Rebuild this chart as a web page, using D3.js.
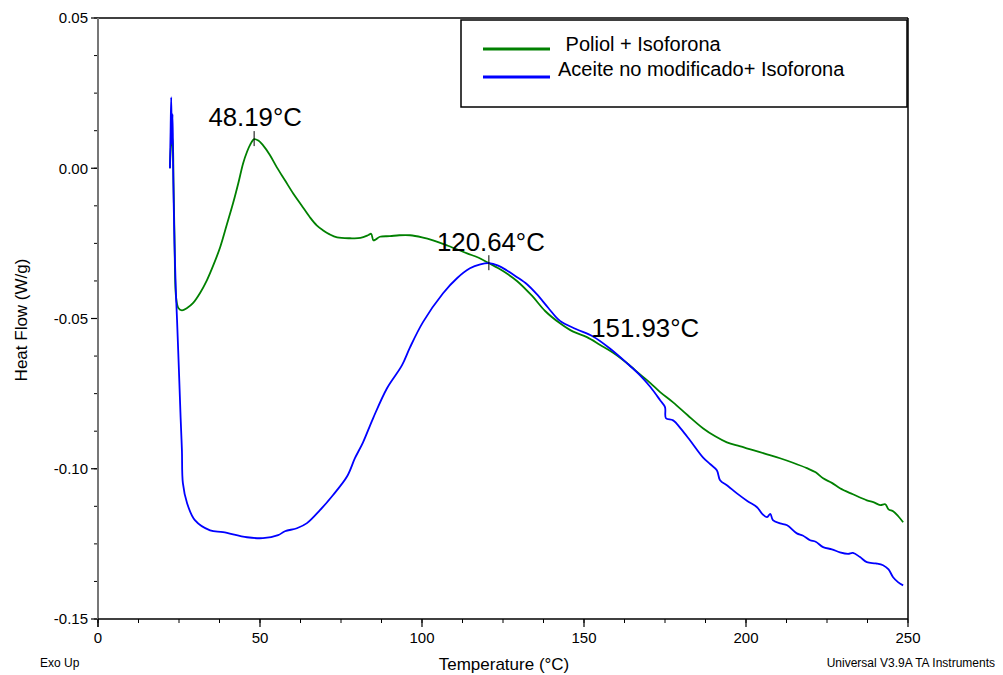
<!DOCTYPE html>
<html><head><meta charset="utf-8">
<script src="https://cdn.jsdelivr.net/npm/d3@7"></script>
<style>body{margin:0;background:#fff}svg{display:block;font-family:"Liberation Sans",Arial,sans-serif}</style>
</head><body><svg id="c" width="1003" height="675"></svg>
<script>
const xTicks=[0,50,100,150,200,250];
const yTicks=[0.05,0.00,-0.05,-0.10,-0.15];
const yTickLabels=["0.05","0.00","-0.05","-0.10","-0.15"];
const seriesNames=[" Poliol + Isoforona","Aceite no modificado+ Isoforona"];
const seriesColors=["#008000","#0000ff"];
const polT=[22.2,22.6,23.0,23.3,23.6,24.1,24.8,25.9,27.5,29.3,31.5,33.6,35.7,37.7,39.7,41.7,43.3,44.8,46.0,46.9,48.2,49.5,50.9,53.0,55.2,57.7,60.2,62.8,65.4,67.5,69.4,71.5,73.8,77.8,81.0,83.5,84.3,85.0,85.7,87.0,90.1,93.0,96.3,100.0,103.4,108.0,113.9,117.5,120.7,125.0,129.3,134.0,138.0,142.6,146.5,150.9,155.0,159.0,163.3,167.3,170.5,173.5,177.5,182.0,186.7,190.5,194.1,198.0,202.2,206.5,210.5,214.5,218.8,221.5,223.8,226.5,229.0,233.0,237.3,239.5,241.4,243.0,244.0,245.5,247.0,248.5];
const polHF=[0.000,0.008,0.010,-0.005,-0.022,-0.043,-0.0465,-0.0473,-0.0465,-0.0449,-0.0415,-0.0373,-0.032,-0.0263,-0.019,-0.0116,-0.005,0.0017,0.0055,0.0077,0.0097,0.0092,0.0077,0.0045,0.0003,-0.004,-0.0083,-0.0123,-0.0163,-0.019,-0.0206,-0.022,-0.0230,-0.0233,-0.0232,-0.0222,-0.0218,-0.0240,-0.0237,-0.0228,-0.0226,-0.0223,-0.0223,-0.0230,-0.0240,-0.0258,-0.0283,-0.0298,-0.0316,-0.0342,-0.0375,-0.0425,-0.0475,-0.0516,-0.0543,-0.0562,-0.0588,-0.0614,-0.0649,-0.0686,-0.0715,-0.0745,-0.0779,-0.0822,-0.0865,-0.0892,-0.0912,-0.0925,-0.0938,-0.0952,-0.0965,-0.0980,-0.0998,-0.1012,-0.1032,-0.1047,-0.1065,-0.1085,-0.1105,-0.1112,-0.1121,-0.1118,-0.1135,-0.1142,-0.1158,-0.1178];
const aceT=[22.2,22.4,22.6,22.8,23.0,23.2,23.6,24.0,24.4,25.0,25.5,25.9,26.2,27.5,29.9,34.6,38.6,46.0,50.9,55.6,57.7,61.4,64.5,68.5,72.5,76.9,79.3,81.8,84.9,89.2,93.8,96.3,100.3,106.5,110.8,114.8,118.0,120.7,123.5,126.2,129.0,132.4,135.5,139.0,142.6,147.5,152.8,158.0,163.3,167.3,170.5,173.5,175.0,175.3,177.5,180.0,182.7,186.7,189.0,191.0,192.0,194.5,197.2,200.5,203.4,205.0,206.5,207.5,208.3,210.5,212.7,215.7,217.5,219.8,221.5,223.8,226.5,229.0,231.5,233.0,235.2,237.3,240.0,242.3,244.0,245.4,247.0,248.5];
const aceHF=[0.000,0.012,0.0236,0.008,0.018,0.000,-0.025,-0.040,-0.0506,-0.068,-0.083,-0.0938,-0.1048,-0.1115,-0.1171,-0.1205,-0.1211,-0.1228,-0.1231,-0.1221,-0.1208,-0.1198,-0.1181,-0.1138,-0.1088,-0.1025,-0.0965,-0.0912,-0.0832,-0.0732,-0.0656,-0.0596,-0.0512,-0.0416,-0.0366,-0.0333,-0.0320,-0.0316,-0.0324,-0.0340,-0.0360,-0.0386,-0.0420,-0.0465,-0.0508,-0.0535,-0.0560,-0.0600,-0.0649,-0.0689,-0.0728,-0.0772,-0.0795,-0.0832,-0.0839,-0.0868,-0.0905,-0.0962,-0.0985,-0.1005,-0.1038,-0.1058,-0.1082,-0.1108,-0.1128,-0.1150,-0.1161,-0.1150,-0.1171,-0.1182,-0.1188,-0.1215,-0.1222,-0.1238,-0.1243,-0.1261,-0.1268,-0.1278,-0.1283,-0.1280,-0.1294,-0.1311,-0.1315,-0.1321,-0.1335,-0.1361,-0.1378,-0.1388];
const annT=[48.19,120.64,151.93];
const annHF=[0.0097,-0.0316,-0.0562];
const annLabels=["48.19°C","120.64°C","151.93°C"];

const svg=d3.select("#c");
const L=98,R=908,T=18,B=619;
const x=d3.scaleLinear().domain([0,250]).range([L,R]);
const y=d3.scaleLinear().domain([-0.15,0.05]).range([B,T]);

svg.append("line").attr("x1",L).attr("x2",R).attr("y1",T).attr("y2",T).attr("stroke","#000").attr("stroke-width",1.5);
svg.append("line").attr("x1",R).attr("x2",R).attr("y1",T).attr("y2",B).attr("stroke","#000").attr("stroke-width",1.5);

const yMinor=d3.range(-0.15,0.0501,0.0125);
const gy=svg.append("g");
gy.selectAll("line.mn").data(yMinor).join("line").attr("x1",L-4).attr("x2",L).attr("y1",d=>y(d)).attr("y2",d=>y(d)).attr("stroke","#000").attr("stroke-width",1);
gy.selectAll("line.mj").data(yTicks).join("line").attr("x1",L-7).attr("x2",L).attr("y1",d=>y(d)).attr("y2",d=>y(d)).attr("stroke","#000").attr("stroke-width",1.2);
gy.selectAll("text").data(yTicks).join("text").attr("x",L-10).attr("y",d=>y(d)).attr("dy","0.35em").attr("text-anchor","end").attr("font-size",15).text((d,i)=>yTickLabels[i]);
gy.append("line").attr("x1",L).attr("x2",L).attr("y1",T).attr("y2",B+8).attr("stroke","#777").attr("stroke-width",2);

const xMinor=d3.range(0,250.01,12.5);
const gx=svg.append("g");
gx.append("line").attr("x1",L).attr("x2",R).attr("y1",B).attr("y2",B).attr("stroke","#000").attr("stroke-width",1.5);
gx.selectAll("line.mn").data(xMinor).join("line").attr("x1",d=>x(d)).attr("x2",d=>x(d)).attr("y1",B).attr("y2",B+4).attr("stroke","#000").attr("stroke-width",1);
gx.selectAll("line.mj").data(xTicks).join("line").attr("x1",d=>x(d)).attr("x2",d=>x(d)).attr("y1",B).attr("y2",B+8).attr("stroke","#000").attr("stroke-width",1.2);
gx.selectAll("text").data(xTicks).join("text").attr("x",d=>x(d)).attr("y",B+24).attr("text-anchor","middle").attr("font-size",15).text(d=>d);

svg.append("text").attr("x",504).attr("y",670).attr("text-anchor","middle").attr("font-size",17).text("Temperature (°C)");
svg.append("text").attr("transform","translate(27,320) rotate(-90)").attr("text-anchor","middle").attr("font-size",17).text("Heat Flow (W/g)");
svg.append("text").attr("x",40).attr("y",667).attr("font-size",12).text("Exo Up");
svg.append("text").attr("x",995).attr("y",667).attr("text-anchor","end").attr("font-size",12).text("Universal V3.9A TA Instruments");

const line=d3.line().x(d=>x(d[0])).y(d=>y(d[1])).curve(d3.curveCatmullRom.alpha(0.5));
const polData=polT.map((t,i)=>[t,polHF[i]]);
const aceData=aceT.map((t,i)=>[t,aceHF[i]]);
svg.append("path").datum(polData).attr("d",line).attr("fill","none").attr("stroke",seriesColors[0]).attr("stroke-width",1.8);
svg.append("path").datum(aceData).attr("d",line).attr("fill","none").attr("stroke",seriesColors[1]).attr("stroke-width",1.8);

const ann=svg.append("g");
[0,1].forEach(i=>{
  ann.append("line").attr("x1",x(annT[i])).attr("x2",x(annT[i])).attr("y1",y(annHF[i])-8).attr("y2",y(annHF[i])+7).attr("stroke","#000").attr("stroke-width",1);
});
ann.append("text").attr("x",x(annT[0])+1).attr("y",y(annHF[0])-13).attr("text-anchor","middle").attr("font-size",25.8).text(annLabels[0]);
ann.append("text").attr("x",x(annT[1])+2).attr("y",y(annHF[1])-12).attr("text-anchor","middle").attr("font-size",25.8).text(annLabels[1]);
ann.append("text").attr("x",x(annT[2])+1).attr("y",y(annHF[2])).attr("text-anchor","start").attr("font-size",25.8).text(annLabels[2]);

const lg=svg.append("g");
lg.append("rect").attr("x",461).attr("y",20).attr("width",446).attr("height",87).attr("fill","#fff").attr("stroke","#000").attr("stroke-width",1.5);
lg.append("line").attr("x1",483).attr("x2",550).attr("y1",49).attr("y2",49).attr("stroke",seriesColors[0]).attr("stroke-width",3);
lg.append("line").attr("x1",483).attr("x2",550).attr("y1",77).attr("y2",77).attr("stroke",seriesColors[1]).attr("stroke-width",3);
lg.append("text").attr("x",560).attr("y",51).attr("font-size",20).style("white-space","pre").text(seriesNames[0]);
lg.append("text").attr("x",558).attr("y",76).attr("font-size",20).text(seriesNames[1]);
</script></body></html>
